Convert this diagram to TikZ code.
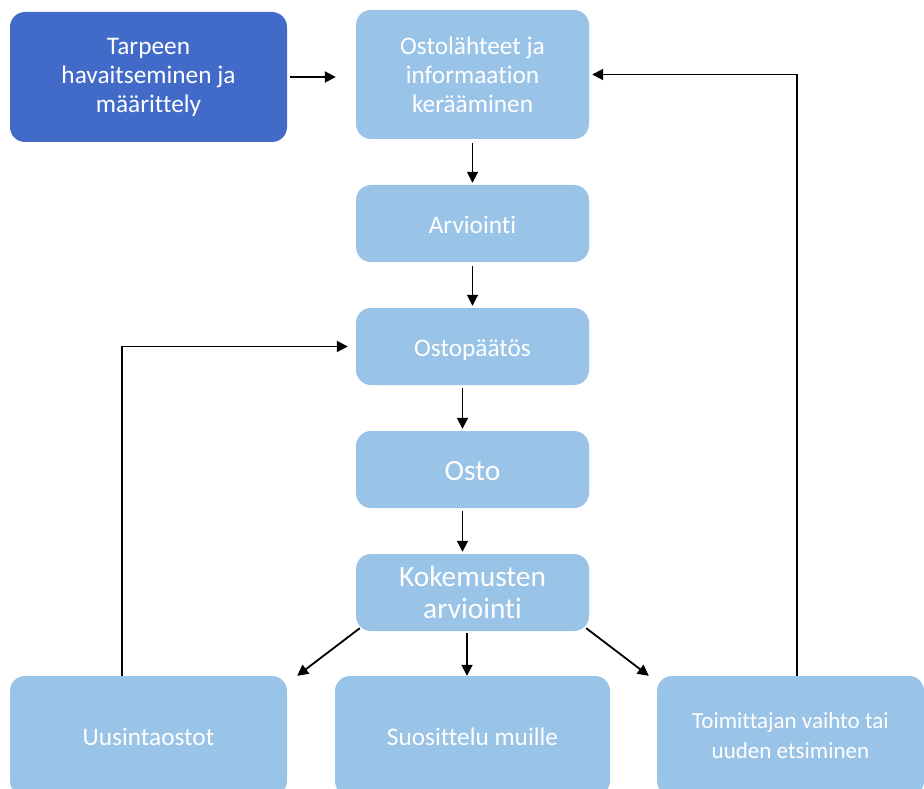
\documentclass[tikz,border=0pt]{standalone}
\usepackage{fontspec}
\setmainfont{Carlito}[Ligatures={NoCommon}]
\usetikzlibrary{arrows.meta,calc}
\definecolor{darkbox}{RGB}{66,106,201}
\definecolor{lightbox}{RGB}{154,195,232}
\begin{document}
\begin{tikzpicture}[x=1pt,y=-1pt,
  box/.style={rounded corners=15pt,draw=none,text=white,
    font=\fontsize{25.3}{29}\selectfont,inner sep=0pt},
  lbox/.style={box,fill=lightbox},
  dbox/.style={box,fill=darkbox},
  multi/.style={align=center},
  one/.style={text height=19.2pt,text depth=0pt},
  big/.style={font=\fontsize{29.4}{32}\selectfont},
  small/.style={font=\fontsize{23}{30}\selectfont},
  arr/.style={draw=black,line width=1.8pt,-{Triangle[length=11pt,width=11pt]}}]
\clip (0,0) rectangle (924,789);
\useasboundingbox (0,0) rectangle (924,789);
\node[dbox,multi,minimum width=277pt,minimum height=130pt] (tarve) at (148.5,77) {Tarpeen\\havaitseminen ja\\määrittely};
\node[lbox,multi,minimum width=233pt,minimum height=129pt] (info) at (472.5,74.5) {Ostolähteet ja\\informaation\\kerääminen};
\node[lbox,one,minimum width=233pt,minimum height=77pt] (arv) at (472.5,223.5) {Arviointi};
\node[lbox,one,minimum width=233pt,minimum height=77pt] (paat) at (472.5,346.5) {Ostopäätös};
\node[lbox,big,one,text height=22.3pt,minimum width=233pt,minimum height=77pt] (osto) at (472.5,469.5) {Osto};
\node[lbox,big,multi,minimum width=233pt,minimum height=77pt] (kok) at (472.5,592.5) {Kokemusten\\arviointi};
\node[lbox,one,minimum width=277pt,minimum height=120pt] (uus) at (148.5,736) {Uusintaostot};
\node[lbox,one,minimum width=275pt,minimum height=120pt] (suo) at (472.5,736) {Suosittelu muille};
\node[lbox,small,multi,minimum width=267pt,minimum height=120pt] (toim) at (790.5,736) {Toimittajan vaihto tai\\uuden etsiminen};

\draw[arr] ($(tarve.east)+(3,0)$) -- ($(tarve.east -| info.west)+(-20,0)$);
\draw[arr] ($(info.south)+(0,4)$) -- ($(arv.north)+(0,-2)$);
\draw[arr] ($(arv.south)+(0,4)$) -- ($(paat.north)+(0,-2)$);
\draw[arr] ($(paat.south)+(-10,3)$) -- ($(osto.north)+(-10,-2)$);
\draw[arr] ($(osto.south)+(-10,3)$) -- ($(kok.north)+(-10,-2)$);
\draw[arr] ($(kok.south west)+(4,-3)$) -- ($(uus.north east)+(10,0)$);
\draw[arr] ($(kok.south)+(-5.5,2)$) -- ($(suo.north)+(-5.5,0)$);
\draw[arr] ($(kok.south east)+(-3,-3)$) -- ($(toim.north west)+(-8,0)$);
\draw[arr] ($(uus.north west)+(112,0)$) |- ($(paat.west)+(-8,0)$);
\draw[arr] ($(toim.north)+(6.5,0)$) |- ($(info.east)+(3,0)$);
\end{tikzpicture}
\end{document}
